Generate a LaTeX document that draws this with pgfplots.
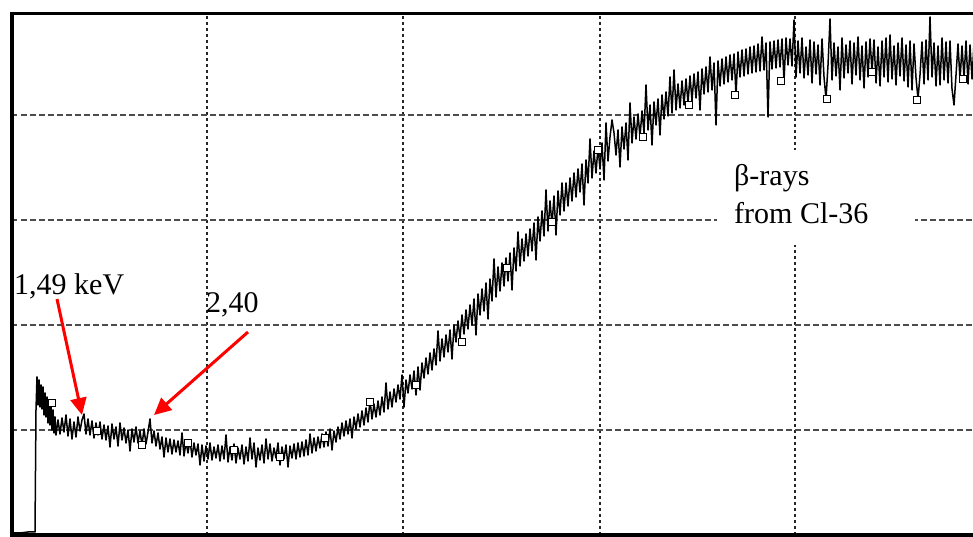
\documentclass[border=0pt]{standalone}
\usepackage{fontspec}
\setmainfont{Liberation Serif}
\usepackage{pgfplots}
\pgfplotsset{compat=1.18}
\usepackage{pgfplotstable}
\usetikzlibrary{arrows.meta}

\pgfplotstableread{
x y
12 2
20 2
28 3
34 3
35 3
36 125
37 158
38 130
39 155
40 128
41 150
42 126
43 148
44 120
45 142
46 118
47 138
48 112
49 132
50 110
51 128
52 105
53 125
54 102
55 118
56 100
58 115
60 101
62 117
64 103
66 120
68 99
70 116
72 96
74 113
76 98
78 118
80 104
82 115
84 121
86 101
88 116
90 100
92 114
94 97
96 112
98 100
100 113
102 96
104 110
106 95
108 109
110 88
112 111
114 96
116 108
118 89
120 112
122 95
124 107
126 92
128 105
130 84
132 106
134 93
136 108
138 92
140 104
142 90
144 106
146 91
148 103
150 116
152 92
154 104
156 89
158 102
160 86
162 98
164 78
166 97
168 83
170 96
172 81
174 95
176 83
178 94
180 80
182 102
184 79
186 93
188 82
190 95
192 78
194 92
196 80
198 91
200 70
202 90
204 74
206 89
208 76
210 92
212 75
214 88
216 77
218 90
220 74
222 89
224 76
226 100
228 73
230 88
232 75
234 91
236 72
238 87
240 76
242 90
244 71
246 88
248 74
250 97
252 76
254 92
256 68
258 87
260 75
262 90
264 72
266 96
268 76
270 91
272 74
274 87
276 77
278 92
280 70
282 88
284 76
286 90
288 68
290 89
292 77
294 91
296 76
298 92
300 78
302 93
304 79
306 95
308 80
310 101
312 82
314 97
316 84
318 98
320 87
322 101
324 88
326 103
328 89
330 106
332 85
334 104
336 93
338 108
340 96
342 112
344 99
346 114
348 101
350 116
352 97
354 118
356 106
358 121
360 108
362 124
364 110
366 127
368 113
370 135
372 116
374 131
376 118
378 134
380 120
382 138
384 123
386 152
388 126
390 143
392 128
394 146
396 133
398 150
400 136
402 160
404 128
406 155
408 142
410 160
412 146
414 164
416 140
418 168
420 145
422 172
424 157
426 177
428 161
430 182
432 165
434 186
436 170
438 204
440 174
442 196
444 178
446 200
448 183
450 205
452 176
454 210
456 193
458 214
460 197
462 220
464 201
466 225
468 206
470 230
472 210
474 236
476 200
478 241
480 220
482 246
484 224
486 252
488 216
490 256
492 234
494 276
496 238
498 268
500 244
502 272
504 249
506 277
508 254
510 282
512 245
514 287
516 264
518 303
520 269
522 296
524 274
526 301
528 279
530 306
532 284
534 312
536 275
538 318
540 294
542 324
544 299
546 345
548 304
550 334
552 310
554 339
556 300
558 344
560 320
562 352
564 324
566 352
568 329
570 357
572 334
574 362
576 338
578 366
580 343
582 371
584 330
586 375
588 352
590 396
592 357
594 384
596 362
598 388
600 366
602 392
604 355
606 412
608 374
610 398
612 415
614 402
616 380
618 405
620 368
622 408
624 386
626 412
628 375
630 432
632 392
634 418
636 396
638 421
640 398
642 424
644 402
646 450
648 405
650 430
652 390
654 433
656 410
658 436
660 400
662 440
664 416
666 443
668 419
670 458
672 422
674 465
676 425
678 451
680 427
682 454
684 430
686 456
688 432
690 459
692 434
694 461
696 437
698 463
700 425
702 466
704 441
706 468
708 443
710 478
712 445
714 472
716 410
718 474
720 449
722 476
724 451
726 478
728 453
730 480
732 455
734 481
736 440
738 483
740 458
742 485
744 459
746 486
748 461
750 488
752 462
754 489
756 463
758 491
760 464
762 498
764 465
766 492
768 418
770 493
772 466
774 494
776 467
778 495
780 468
782 496
784 454
786 497
788 470
790 496
792 469
794 515
796 458
798 494
800 462
802 497
804 457
806 488
808 460
810 495
812 452
814 493
816 461
818 490
820 450
822 496
824 458
826 436
828 470
830 516
832 455
834 492
836 459
838 488
840 445
842 497
844 457
846 490
848 462
850 494
852 451
854 492
856 460
858 498
860 455
862 489
864 447
866 493
868 458
870 496
872 463
874 495
876 452
878 488
880 449
882 494
884 458
886 497
888 453
890 500
892 456
894 489
896 450
898 492
900 459
902 497
904 454
906 490
908 448
910 494
912 445
914 491
916 457
918 436
920 460
922 493
924 451
926 495
928 455
930 518
932 458
934 492
936 449
938 489
940 450
942 497
944 455
946 493
948 452
950 494
952 446
954 430
956 460
958 491
960 455
962 489
964 457
966 494
968 451
970 490
972 456
974 492
976 458
}\spectrum

\begin{document}
\begin{tikzpicture}
\useasboundingbox (0pt,-2pt) rectangle (973pt,535pt);
\clip (0pt,-2pt) rectangle (973pt,535pt);
\begin{axis}[
  at={(12pt,0pt)}, anchor=south west,
  width=980pt, height=521.5pt, scale only axis,
  xmin=12, xmax=992, ymin=0, ymax=521.5,
  xtick={207,403,600,795}, ytick={105,210,315,420},
  xticklabels={}, yticklabels={},
  major tick length=0pt,
  xmajorgrids, ymajorgrids,
  major x grid style={black!85, line width=1.2pt, dash pattern=on 3pt off 3pt},
  major y grid style={black!70, line width=1.2pt, dash pattern=on 5.5pt off 3.5pt},
  axis line style={line width=3.5pt, black},
  clip=true,
]
\addplot[black, line width=1.5pt, line join=round] table[x=x, y=y] {\spectrum};
\addplot[only marks, mark=square*, mark size=3.5pt,
  mark options={fill=white, draw=black, line width=0.8pt}] coordinates {
(52,132) (97,104) (142,90) (188,92) (234,85) (280,78) (325,97) (370,133)
(416,150) (462,193) (507,267) (552,313) (598,385) (643,398) (689,430)
(735,440) (781,454) (827,436) (872,463) (917,435) (963,456)
};
\fill[white] (axis cs:717,290) rectangle (axis cs:915,385);
\node[anchor=base west, inner sep=0pt, font=\fontsize{30}{36}\selectfont] at (axis cs:734,349) {β-rays};
\node[anchor=base west, inner sep=0pt, font=\fontsize{30}{36}\selectfont] at (axis cs:734,311) {from Cl-36};
\node[anchor=base west, inner sep=0pt, font=\fontsize{30}{36}\selectfont] at (axis cs:14,240) {1,49 keV};
\node[anchor=base west, inner sep=0pt, font=\fontsize{30}{36}\selectfont] at (axis cs:206,222) {2,40};
\draw[red, line width=3pt, -{Triangle[length=17pt,width=16pt]}] (axis cs:57,236) -- (axis cs:82,120);
\draw[red, line width=3pt, -{Triangle[length=17pt,width=16pt]}] (axis cs:248,203) -- (axis cs:154,120);
\end{axis}
\end{tikzpicture}
\end{document}
